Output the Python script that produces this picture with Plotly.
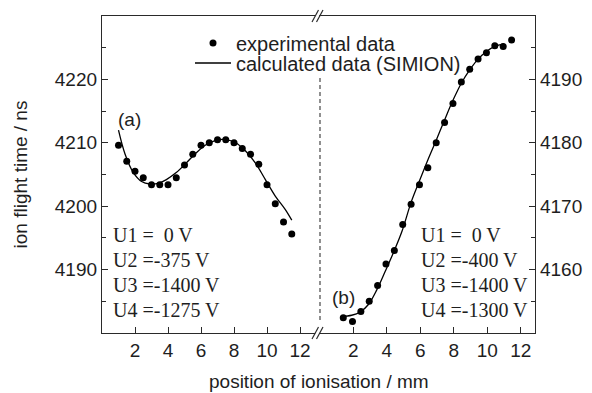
import plotly.graph_objects as go

# ---- data: panel (a) ----
exp_a_x = [1.0, 1.5, 2.0, 2.5, 3.0, 3.5, 4.0, 4.5, 5.0, 5.5, 6.0, 6.5, 7.0, 7.5,
           8.0, 8.5, 9.0, 9.5, 10.0, 10.5, 11.0, 11.5]
exp_a_y = [4209.6, 4207.1, 4205.5, 4204.5, 4203.4, 4203.4, 4203.4, 4204.5, 4206.5,
           4208.2, 4209.6, 4210.0, 4210.5, 4210.5, 4210.0, 4209.1, 4208.2, 4206.6,
           4203.4, 4200.4, 4197.5, 4195.6]
calc_a_x = [1.0, 1.4, 1.9, 2.4, 2.9, 3.4, 3.9, 4.5, 5.1, 5.7, 6.3, 6.9, 7.5, 8.1,
            8.7, 9.3, 9.9, 10.5, 11.1, 11.5]
calc_a_y = [4212.0, 4208.2, 4205.3, 4203.9, 4203.5, 4203.6, 4204.2, 4205.3, 4206.8,
            4208.4, 4209.7, 4210.4, 4210.5, 4210.0, 4208.7, 4206.8, 4204.2, 4201.6,
            4199.5, 4197.8]

# ---- data: panel (b) ----
exp_b_x = [1.4, 1.95, 2.45, 2.95, 3.45, 3.95, 4.45, 4.95, 5.45, 5.95, 6.45, 6.95,
           7.45, 7.95, 8.45, 8.95, 9.45, 9.95, 10.45, 10.95, 11.45]
exp_b_y = [4152.4, 4151.8, 4153.4, 4155.0, 4157.5, 4160.9, 4163.0, 4167.1, 4170.3,
           4173.4, 4176.05, 4180.0, 4183.2, 4186.2, 4189.6, 4191.6, 4193.2, 4194.2,
           4195.3, 4195.2, 4196.2]
calc_b_x = [1.3, 1.9, 2.4, 2.9, 3.4, 3.9, 4.4, 4.9, 5.45, 5.95, 6.45, 6.95, 7.45,
            7.95, 8.45, 8.95, 9.45, 9.95, 10.45, 11.0]
calc_b_y = [4152.6, 4152.8, 4153.3, 4154.5, 4156.8, 4159.7, 4162.7, 4166.0, 4170.6,
            4174.0, 4177.3, 4180.4, 4183.6, 4186.7, 4189.4, 4191.5, 4193.2, 4194.4,
            4195.2, 4195.6]

x_ticks = [2, 4, 6, 8, 10, 12]
y_ticks_a = [4190, 4200, 4210, 4220]
y_ticks_b = [4160, 4170, 4180, 4190]
volt_a = ["U1 =\u00a0\u00a00 V", "U2 =-375 V", "U3 =-1400 V", "U4 =-1275 V"]
volt_b = ["U1 =\u00a0\u00a00 V", "U2 =-400 V", "U3 =-1400 V", "U4 =-1300 V"]

SANS = "Liberation Sans, Arial, sans-serif"
SERIF = "Liberation Serif, Times New Roman, serif"
TXT = "#1e1e1e"
AX = "#2a2a2a"

OFF = 8                      # page body margin
W, H = 592 - OFF, 393 - OFF
L, R, T, B = 102, 535, 16, 333   # plot frame in page pixels


def px(x):
    return (x - L) / (R - L)


def py(y):
    return (B - y) / (B - T)


fig = go.Figure()
fig.add_trace(go.Scatter(x=exp_a_x, y=exp_a_y, mode="markers", name="experimental data",
                         marker=dict(color="black", size=7), xaxis="x", yaxis="y",
                         legend="legend"))
fig.add_trace(go.Scatter(x=calc_a_x, y=calc_a_y, mode="lines", name="calculated data (SIMION)",
                         line=dict(color="black", width=1.3, shape="spline"),
                         xaxis="x", yaxis="y", legend="legend2"))
fig.add_trace(go.Scatter(x=exp_b_x, y=exp_b_y, mode="markers", showlegend=False,
                         marker=dict(color="black", size=7), xaxis="x2", yaxis="y2"))
fig.add_trace(go.Scatter(x=calc_b_x, y=calc_b_y, mode="lines", showlegend=False,
                         line=dict(color="black", width=1.3, shape="spline"),
                         xaxis="x2", yaxis="y2"))

split = px(318.5)
common_x = dict(showline=True, linecolor=AX, linewidth=1.3, mirror=True, ticks="inside",
                ticklen=6, tickwidth=1.2, tickcolor=AX, tickvals=x_ticks, showgrid=False,
                zeroline=False, tickfont=dict(family=SANS, size=19, color=TXT))
common_y = dict(showline=True, linecolor=AX, linewidth=1.3, ticks="inside", ticklen=6,
                tickwidth=1.2, tickcolor=AX, showgrid=False, zeroline=False,
                tickfont=dict(family=SANS, size=19, color=TXT),
                minor=dict(dtick=5, ticks="inside", ticklen=4, tickcolor=AX, tickwidth=1.2))

fig.update_layout(
    width=W, height=H,
    margin=dict(l=L - OFF, r=W - (R - OFF), t=T - OFF, b=H - (B - OFF)),
    plot_bgcolor="white", paper_bgcolor="white",
    xaxis=dict(domain=[0, split], range=[0, 13.12], anchor="y", **common_x),
    xaxis2=dict(domain=[split, 1], range=[-0.08, 12.85], anchor="y2", **common_x),
    yaxis=dict(range=[4180, 4230], anchor="x", side="left", tickvals=y_ticks_a,
               title=dict(text="ion flight time / ns", standoff=22,
                          font=dict(family=SANS, size=19, color=TXT)),
               **common_y),
    yaxis2=dict(range=[4150, 4200], anchor="x2", side="right", tickvals=y_ticks_b,
                **common_y),
    legend=dict(x=px(190), y=py(43), xanchor="left", yanchor="middle", itemwidth=36,
                bgcolor="rgba(0,0,0,0)", font=dict(family=SANS, size=20, color=TXT)),
    legend2=dict(x=px(190), y=py(63), xanchor="left", yanchor="middle", itemwidth=36,
                 bgcolor="rgba(0,0,0,0)", font=dict(family=SANS, size=20, color=TXT)),
)

shapes = []
# dashed separator
shapes.append(dict(type="line", xref="paper", yref="paper", x0=px(320), x1=px(320),
                   y0=py(320), y1=py(78), line=dict(color="#555", width=1.3, dash="4px,3px")))
# axis break marks
for yb in (B, T):
    shapes.append(dict(type="rect", xref="paper", yref="paper", x0=px(315.2), x1=px(319.2),
                       y0=py(yb + 2), y1=py(yb - 2), fillcolor="white", line=dict(width=0)))
    for dx in (0, 4.5):
        shapes.append(dict(type="line", xref="paper", yref="paper",
                           x0=px(312 + dx), y0=py(yb + 6), x1=px(318.5 + dx), y1=py(yb - 6),
                           line=dict(color=AX, width=1.2)))
fig.update_layout(shapes=shapes)

ann = []
ann.append(dict(text="position of ionisation / mm", xref="paper", yref="paper",
                x=px(319), y=py(381), xanchor="center", yanchor="middle", showarrow=False,
                font=dict(family=SANS, size=19, color=TXT)))
ann.append(dict(text="(a)", xref="paper", yref="paper", x=px(129), y=py(119),
                xanchor="center", yanchor="middle", showarrow=False,
                font=dict(family=SANS, size=19, color=TXT)))
ann.append(dict(text="(b)", xref="paper", yref="paper", x=px(343), y=py(297),
                xanchor="center", yanchor="middle", showarrow=False,
                font=dict(family=SANS, size=19, color=TXT)))
for i, (ta, tb) in enumerate(zip(volt_a, volt_b)):
    yy = py(235 + 25 * i)
    ann.append(dict(text=ta, xref="paper", yref="paper", x=px(111), y=yy, xanchor="left",
                    yanchor="middle", showarrow=False,
                    font=dict(family=SERIF, size=20, color=TXT)))
    ann.append(dict(text=tb, xref="paper", yref="paper", x=px(419), y=yy, xanchor="left",
                    yanchor="middle", showarrow=False,
                    font=dict(family=SERIF, size=20, color=TXT)))
fig.update_layout(annotations=ann)

fig.write_html("out.html")
